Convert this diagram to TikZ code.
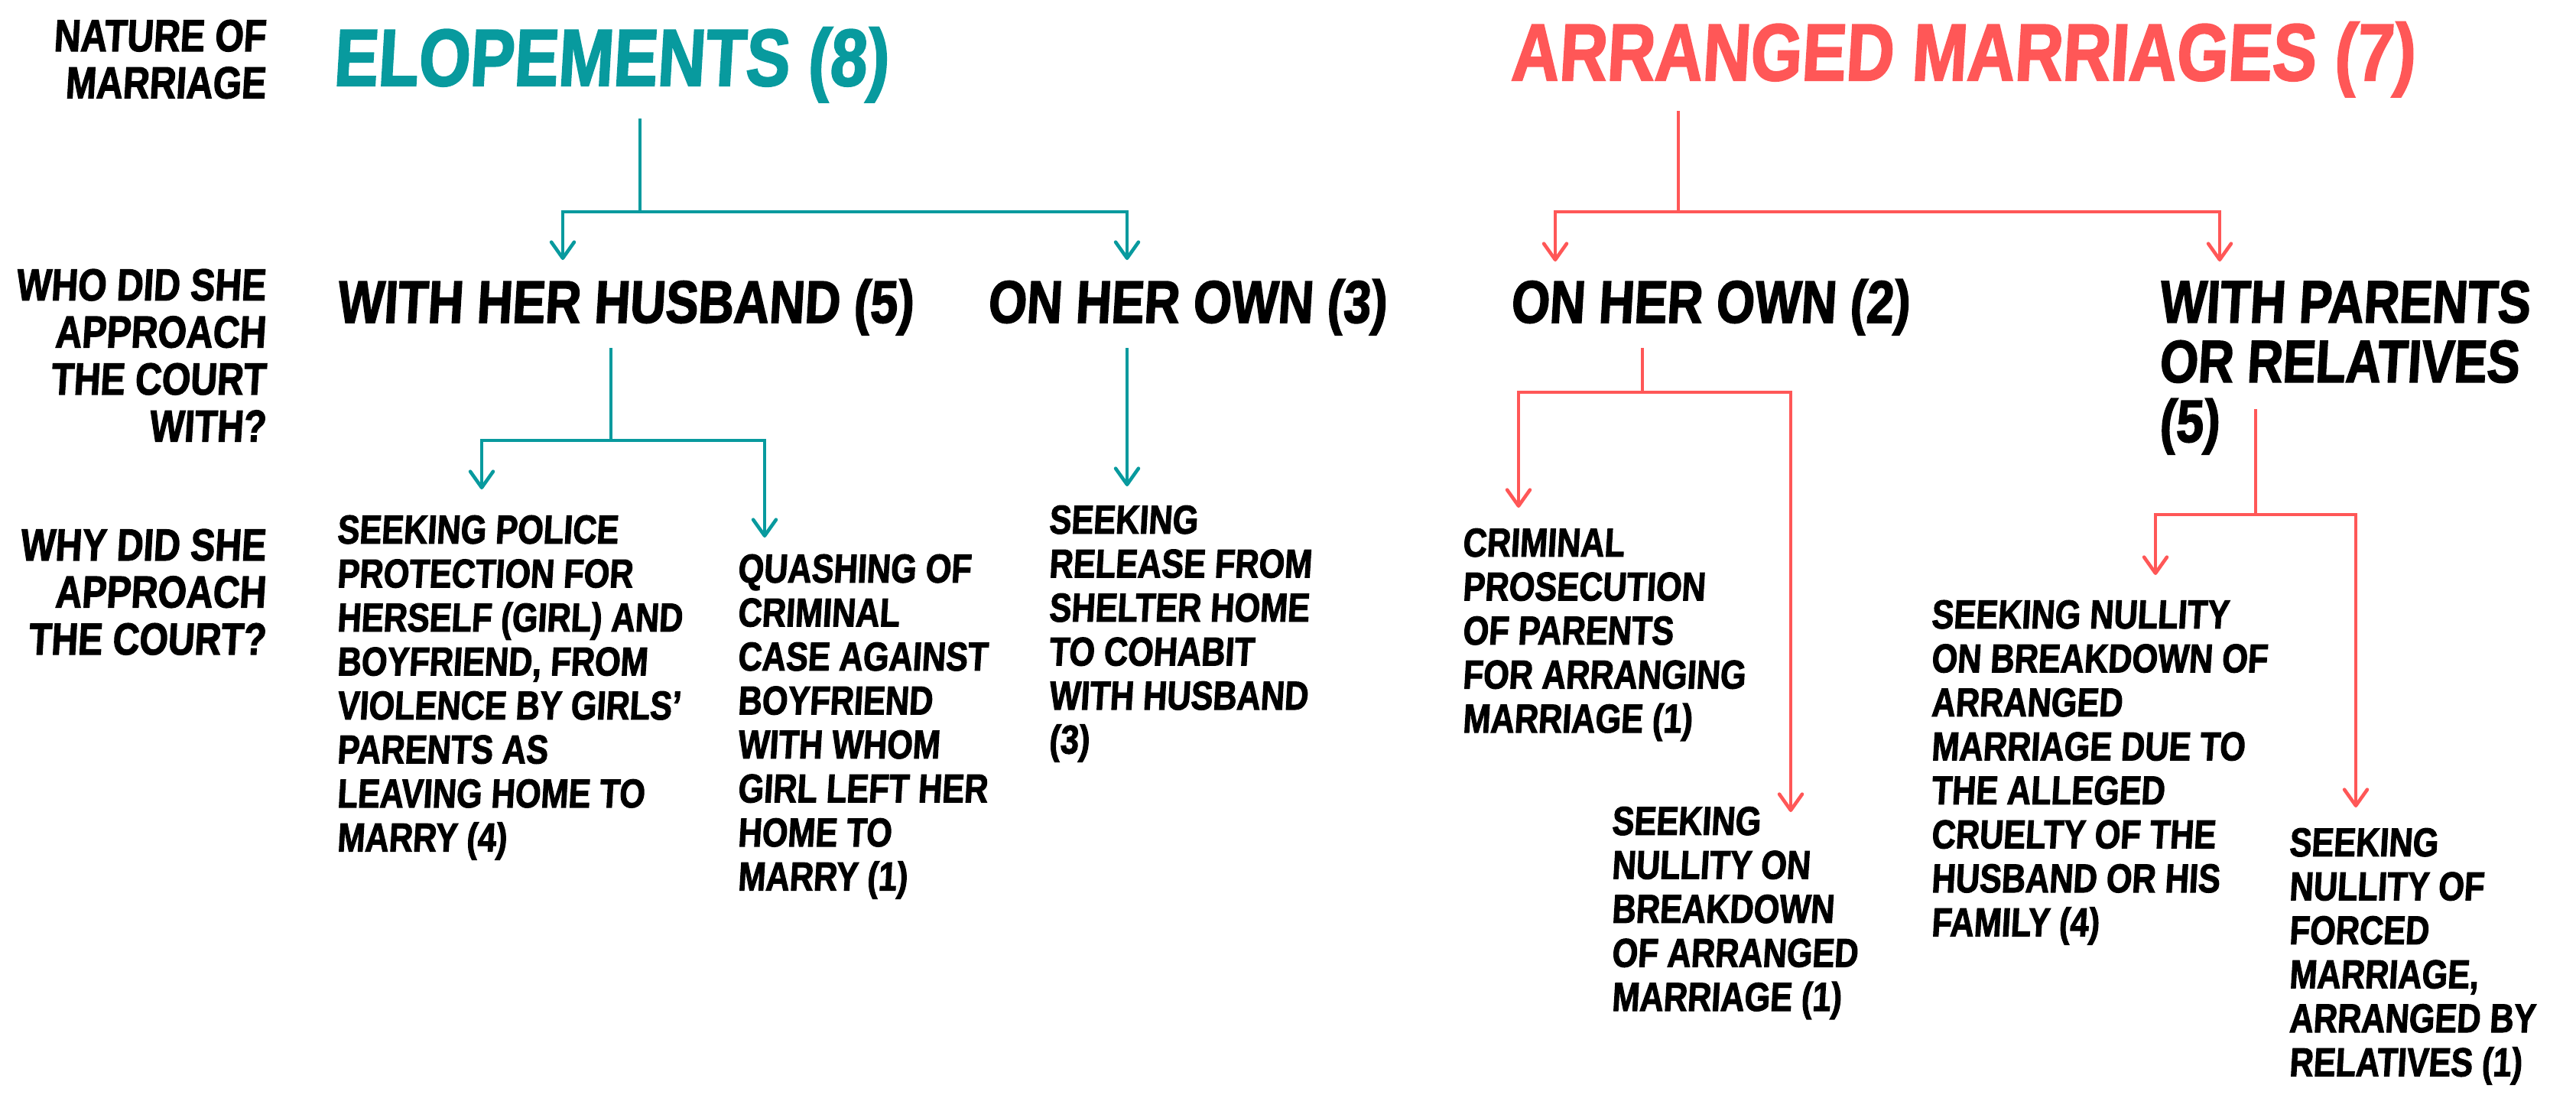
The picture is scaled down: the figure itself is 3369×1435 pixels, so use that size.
\documentclass[tikz,border=0pt]{standalone}
\usepackage{fontspec}
\usetikzlibrary{arrows.meta}

\newfontfamily\grungefont{Liberation Sans}[FakeStretch=0.82, FakeBold=2, FakeSlant=0.06]
\definecolor{elopeteal}{RGB}{8,154,158}
\definecolor{arrcoral}{RGB}{255,87,87}

\tikzset{
  headtext/.style={anchor=base west, inner sep=0pt, font=\grungefont\bfseries\fontsize{30}{32}\selectfont},
  lvltwo/.style={anchor=base west, inner sep=0pt, align=left, font=\grungefont\bfseries\fontsize{22.3}{22.2}\selectfont},
  lvlthree/.style={anchor=base west, inner sep=0pt, align=left, font=\grungefont\bfseries\fontsize{15}{16.36}\selectfont},
  sidelabel/.style={anchor=base east, inner sep=0pt, align=right, font=\grungefont\bfseries\fontsize{16.7}{17.5}\selectfont},
  tealline/.style={draw=elopeteal, line width=1.3pt},
  coralline/.style={draw=arrcoral, line width=1.3pt},
  >={Straight Barb[length=6pt,width=8.5pt,round]}
}

\begin{document}
\begin{tikzpicture}[x=0.01cm, y=-0.01cm]
        \useasboundingbox (0,0) rectangle (3369,1435);

        % row labels (placed by the baseline of their last line)
        \node[sidelabel] (nature_lbl) at (348,128.5) {NATURE OF\\MARRIAGE};
        \node[sidelabel] (who_lbl) at (348,577.5) {WHO DID SHE\\APPROACH\\THE COURT\\WITH?};
        \node[sidelabel] (why_lbl) at (348,856) {WHY DID SHE\\APPROACH\\THE COURT?};

        \node[headtext, text=elopeteal] (elope_head) at (435,112) {ELOPEMENTS (8)};
        \node[headtext, text=arrcoral] (arr_head) at (1975,105) {ARRANGED MARRIAGES (7)};

        \node[lvltwo] (with_husband) at (440,422) {WITH HER HUSBAND (5)};
        \node[lvltwo] (own_three) at (1291,422) {ON HER OWN (3)};
        \node[lvltwo] (own_two) at (1975,422) {ON HER OWN (2)};
        \node[lvltwo] (with_parents) at (2823,578) {WITH PARENTS\\OR RELATIVES\\(5)};

        \node[lvlthree] (police) at (440,1113.5) {SEEKING POLICE\\PROTECTION FOR\\HERSELF (GIRL) AND\\BOYFRIEND, FROM\\VIOLENCE BY GIRLS’\\PARENTS AS\\LEAVING HOME TO\\MARRY (4)};
        \node[lvlthree] (quashing) at (964,1164.5) {QUASHING OF\\CRIMINAL\\CASE AGAINST\\BOYFRIEND\\WITH WHOM\\GIRL LEFT HER\\HOME TO\\MARRY (1)};
        \node[lvlthree] (release) at (1371,985.5) {SEEKING\\RELEASE FROM\\SHELTER HOME\\TO COHABIT\\WITH HUSBAND\\(3)};
        \node[lvlthree] (prosecution) at (1912,958) {CRIMINAL\\PROSECUTION\\OF PARENTS\\FOR ARRANGING\\MARRIAGE (1)};
        \node[lvlthree] (nullity_one) at (2107,1322) {SEEKING\\NULLITY ON\\BREAKDOWN\\OF ARRANGED\\MARRIAGE (1)};
        \node[lvlthree] (nullity_cruelty) at (2525,1224.5) {SEEKING NULLITY\\ON BREAKDOWN OF\\ARRANGED\\MARRIAGE DUE TO\\THE ALLEGED\\CRUELTY OF THE\\HUSBAND OR HIS\\FAMILY (4)};
        \node[lvlthree] (nullity_forced) at (2993,1407.5) {SEEKING\\NULLITY OF\\FORCED\\MARRIAGE,\\ARRANGED BY\\RELATIVES (1)};

        % elopements branch
        \coordinate (elope_root) at (837,155);
        \coordinate (elope_split) at (837,277);
        \coordinate (husband_in) at (736,340);
        \coordinate (own_three_in) at (1474,340);
        \draw[tealline,->] (elope_root) -- (elope_split) -| (husband_in);
        \draw[tealline,->] (elope_split) -| (own_three_in);

        \coordinate (husband_root) at (799,455);
        \coordinate (husband_split) at (799,576);
        \coordinate (police_in) at (630,640);
        \coordinate (quashing_in) at (1000,703);
        \draw[tealline,->] (husband_root) -- (husband_split) -| (police_in);
        \draw[tealline,->] (husband_split) -| (quashing_in);

        \coordinate (own_three_out) at (1474,455);
        \coordinate (release_in) at (1474,636);
        \draw[tealline,->] (own_three_out) -- (release_in);

        % arranged branch
        \coordinate (arr_root) at (2195,145);
        \coordinate (arr_split) at (2195,277);
        \coordinate (own_two_in) at (2034,342);
        \coordinate (parents_in) at (2903,342);
        \draw[coralline,->] (arr_root) -- (arr_split) -| (own_two_in);
        \draw[coralline,->] (arr_split) -| (parents_in);

        \coordinate (own_two_root) at (2148,455);
        \coordinate (own_two_split) at (2148,513);
        \coordinate (prosecution_in) at (1986,664);
        \coordinate (nullity_one_in) at (2342,1062);
        \draw[coralline,->] (own_two_root) -- (own_two_split) -| (prosecution_in);
        \draw[coralline,->] (own_two_split) -| (nullity_one_in);

        \coordinate (parents_root) at (2950,535);
        \coordinate (parents_split) at (2950,673);
        \coordinate (cruelty_in) at (2819,752);
        \coordinate (forced_in) at (3081,1056);
        \draw[coralline,->] (parents_root) -- (parents_split) -| (cruelty_in);
        \draw[coralline,->] (parents_split) -| (forced_in);
\end{tikzpicture}
\end{document}
